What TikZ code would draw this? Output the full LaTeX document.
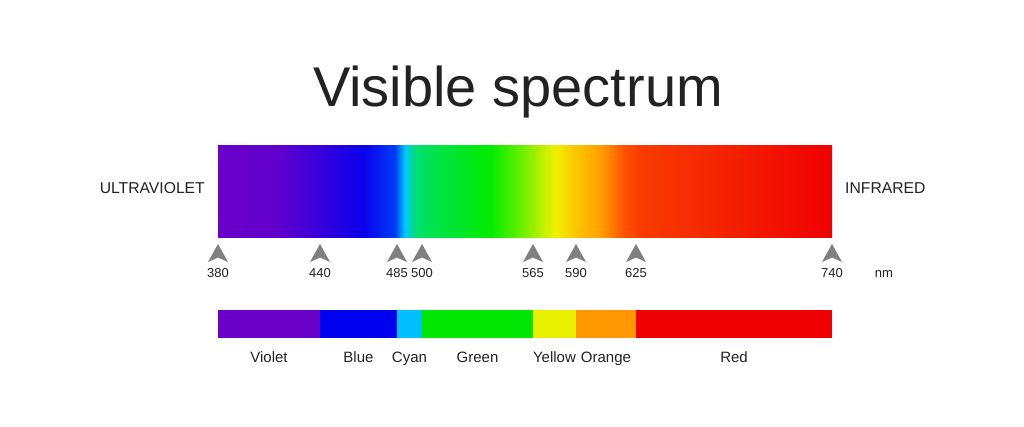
\documentclass[tikz,border=0pt]{standalone}
\usepackage{fontspec}
\setmainfont{Liberation Sans}
\usetikzlibrary{positioning}
\definecolor{textgray}{RGB}{34,34,34}
\definecolor{markgray}{RGB}{128,128,128}
% colours of the bands
\definecolor{bviolet}{RGB}{106,0,200}
\definecolor{bblue}{RGB}{0,0,240}
\definecolor{bcyan}{RGB}{0,192,255}
\definecolor{bgreen}{RGB}{0,230,0}
\definecolor{byellow}{RGB}{232,240,0}
\definecolor{borange}{RGB}{255,152,0}
\definecolor{bred}{RGB}{240,0,0}
% colours of the continuous bar
\definecolor{sa}{RGB}{106,0,200}
\definecolor{sb}{RGB}{96,0,206}
\definecolor{sc}{RGB}{10,0,235}
\definecolor{sd}{RGB}{0,60,245}
\definecolor{se}{RGB}{0,200,255}
\definecolor{sf}{RGB}{0,222,120}
\definecolor{sg}{RGB}{0,226,80}
\definecolor{sh}{RGB}{0,236,0}
\definecolor{si}{RGB}{100,240,0}
\definecolor{sj}{RGB}{240,240,0}
\definecolor{sk}{RGB}{250,200,0}
\definecolor{sl}{RGB}{255,160,0}
\definecolor{sm}{RGB}{255,80,0}
\definecolor{sn}{RGB}{248,60,0}
\definecolor{so}{RGB}{240,0,0}
\pgfdeclarehorizontalshading{spectrum}{100bp}{
  color(0bp)=(sa); color(25bp)=(sa); color(30.05bp)=(sb); color(36.81bp)=(sc);
  color(39.41bp)=(sd); color(40.23bp)=(se); color(41.04bp)=(sf); color(42.26bp)=(sg);
  color(47.15bp)=(sh); color(49.59bp)=(si); color(52.44bp)=(sj); color(54.07bp)=(sk);
  color(56.11bp)=(sl); color(58.14bp)=(sm); color(59.36bp)=(sn); color(75bp)=(so);
  color(100bp)=(so)}
\tikzset{
  specbar/.style={minimum width=614pt, minimum height=92pt, inner sep=0pt,
    outer sep=0pt, anchor=north west, shading=spectrum},
  bandbox/.style={minimum height=28pt, inner sep=0pt, outer sep=0pt, anchor=north west},
  wavelabel/.style={font=\fontsize{13}{15}\selectfont, text=textgray, anchor=base, inner sep=0pt},
  bandlabel/.style={font=\fontsize{15}{18}\selectfont, text=textgray, anchor=base, inner sep=0pt},
  sidelabel/.style={font=\fontsize{15.7}{19}\selectfont, text=textgray, anchor=base, inner sep=0pt},
  titlelabel/.style={font=\fontsize{56}{60}\selectfont, text=textgray, anchor=base, inner sep=0pt},
}
\begin{document}
\begin{tikzpicture}[x=1pt, y=-1pt]
  \fill[white] (0,0) rectangle (1024,427);
  \useasboundingbox (0,0) rectangle (1024,427);
  % title
  \node[titlelabel] (title) at (518,107) {Visible spectrum};
  % continuous spectrum
  \node[specbar] (bar) at (218,146) {};
  \node[sidelabel, anchor=base east] (uv) at (205,194) {ULTRAVIOLET};
  \node[sidelabel, anchor=base west] (ir) at (845,194) {INFRARED};
  % wavelength markers
  \foreach \x/\nm in {218/380, 320/440, 397/485, 422/500, 533/565, 576/590, 636/625, 832/740} {
    \fill[markgray] (\x,244) -- ({\x+10},262) -- (\x,257.5) -- ({\x-10},262) -- cycle;
    \node[wavelabel] (w\nm) at (\x,278) {\nm};
  }
  \node[wavelabel] (nm) at (884,278) {nm};
  % colour bands
  \foreach \name/\col/\xa/\xb in {Violet/bviolet/218/320, Blue/bblue/320/397,
      Cyan/bcyan/397/422, Green/bgreen/422/533, Yellow/byellow/533/576,
      Orange/borange/576/636, Red/bred/636/832} {
    \node[bandbox, fill=\col, minimum width={(\xb-\xa)*1pt}] (b\name) at (\xa,310) {};
    \node[bandlabel] (l\name) at ({(\xa+\xb)/2},362) {\name};
  }
\end{tikzpicture}
\end{document}
